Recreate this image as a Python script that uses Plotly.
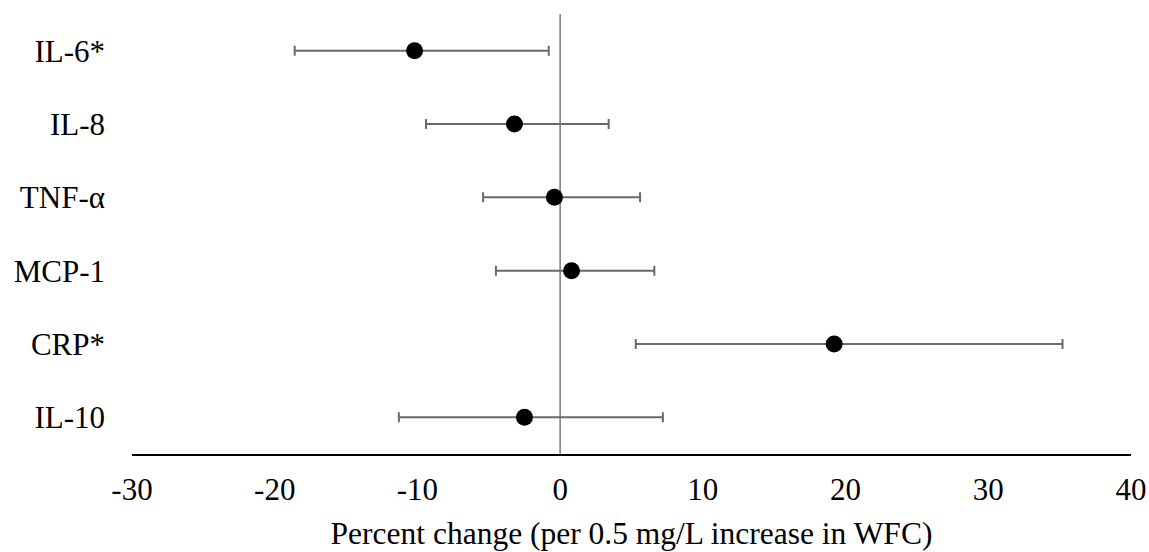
import plotly.graph_objects as go

categories = ["IL-6*", "IL-8", "TNF-α", "MCP-1", "CRP*", "IL-10"]
estimate = [-10.2, -3.2, -0.4, 0.8, 19.2, -2.5]
lower_ci = [-18.6, -9.4, -5.4, -4.5, 5.3, -11.3]
upper_ci = [-0.8, 3.4, 5.6, 6.6, 35.2, 7.2]
x_ticks = [-30, -20, -10, 0, 10, 20, 30, 40]
x_tick_labels = ["-30", "-20", "-10", "0", "10", "20", "30", "40"]

err_plus = [u - e for u, e in zip(upper_ci, estimate)]
err_minus = [e - l for e, l in zip(estimate, lower_ci)]

FONT = "Liberation Serif, Times New Roman, serif"

fig = go.Figure()
fig.add_trace(go.Scatter(
    x=estimate, y=categories, mode="markers",
    marker=dict(color="black", size=17),
    error_x=dict(type="data", symmetric=False, array=err_plus, arrayminus=err_minus,
                 color="#6a6a6a", thickness=2, width=5),
    showlegend=False,
    cliponaxis=False,
))

fig.add_shape(type="line", xref="x", yref="paper", x0=0, x1=0, y0=0, y1=1,
              line=dict(color="#7a7a7a", width=1.5), layer="below")

fig.update_layout(
    width=1149, height=552,
    margin=dict(l=132, r=18, t=14, b=98),
    paper_bgcolor="white", plot_bgcolor="white",
    font=dict(family=FONT, size=31, color="black"),
    xaxis=dict(range=[-30, 40], tickvals=x_ticks, ticktext=x_tick_labels,
               showgrid=False, zeroline=False, automargin=False,
               showline=True, linecolor="black", linewidth=2,
               ticks="", ticklabelstandoff=7,
               title=dict(text="Percent change (per 0.5 mg/L increase in WFC)",
                          font=dict(size=31.5), standoff=16)),
    yaxis=dict(type="category", categoryarray=categories, range=[5.5, -0.5],
               showgrid=False, zeroline=False, showline=False, ticks="",
               automargin=False, ticklabelstandoff=26),
)

fig.write_html("out.html")
